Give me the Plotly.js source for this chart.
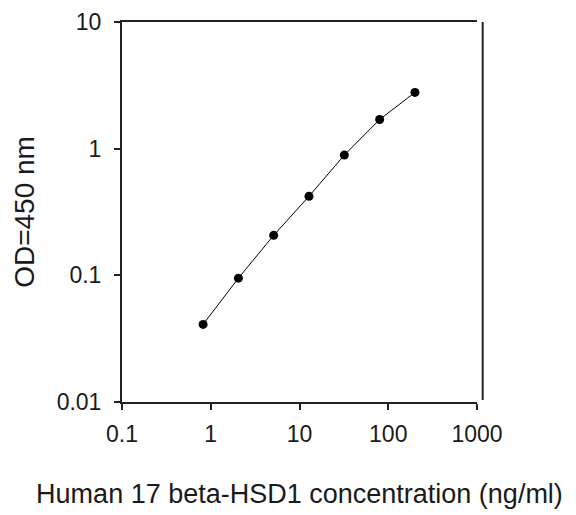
<!DOCTYPE html>
<html>
<head>
<meta charset="utf-8">
<script src="https://cdn.plot.ly/plotly-3.0.1.min.js"></script>
<style>html,body{margin:0;padding:0;background:#fff;}#chart{width:576px;height:515px;}</style>
</head>
<body>
<div id="chart"></div>
<script>
const concentration = [0.82, 2.05, 5.12, 12.8, 32, 80, 200];
const od450 = [0.041, 0.095, 0.207, 0.421, 0.89, 1.70, 2.78];
const xTickVals = [0.1, 1, 10, 100, 1000];
const xTickText = ["0.1", "1", "10", "100", "1000"];
const yTickVals = [0.01, 0.1, 1, 10];
const yTickText = ["0.01", "0.1", "1", "10"];
const xTitle = "Human 17 beta-HSD1 concentration (ng/ml)";
const yTitle = "OD=450 nm";

const font = {family: "Liberation Sans, Arial, sans-serif", color: "#1a1a1a", size: 23};

Plotly.newPlot("chart", [{
  x: concentration, y: od450, type: "scatter", mode: "lines+markers",
  line: {color: "#000", width: 1},
  marker: {color: "#000", size: 9, symbol: "circle"},
  showlegend: false
}], {
  width: 576, height: 515,
  margin: {l: 122, r: 99, t: 22, b: 113},
  paper_bgcolor: "#fff", plot_bgcolor: "#fff",
  font: font,
  xaxis: {
    type: "log", range: [-1, 3], tickvals: xTickVals, ticktext: xTickText,
    ticks: "outside", ticklen: 6, tickwidth: 2, tickcolor: "#222",
    showline: true, linecolor: "#222", linewidth: 2, mirror: true,
    showgrid: false, zeroline: false,
    tickfont: {size: 23}, ticklabelstandoff: 4,
    title: {text: xTitle, font: {size: 27}, standoff: 39}
  },
  yaxis: {
    type: "log", range: [-2, 1], tickvals: yTickVals, ticktext: yTickText,
    ticks: "outside", ticklen: 6, tickwidth: 2, tickcolor: "#222",
    showline: true, linecolor: "#222", linewidth: 2, mirror: false,
    showgrid: false, zeroline: false,
    tickfont: {size: 23}, ticklabelstandoff: 8,
    title: {text: yTitle, font: {size: 28}, standoff: 14}
  },
  shapes: [{type: "line", xref: "paper", yref: "paper", x0: 1.016, x1: 1.016, y0: 0.005, y1: 1,
    line: {color: "#222", width: 2}}]
}, {staticPlot: true, displayModeBar: false});
</script>
</body>
</html>
